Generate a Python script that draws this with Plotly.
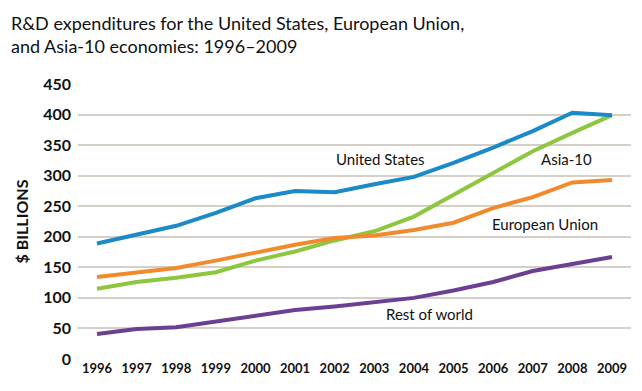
import plotly.graph_objects as go

years = list(range(1996, 2010))
united_states = [189, 204, 218, 239, 263, 275, 273, 286, 298, 321, 346, 373, 403, 399]
european_union = [134, 141, 149, 161, 174, 187, 198, 202, 211, 223, 247, 265, 289, 293]
asia_10 = [115, 126, 133, 142, 161, 176, 194, 209, 233, 269, 305, 340, 370, 399]
rest_of_world = [41, 49, 52, 61, 70, 80, 86, 93, 100, 112, 126, 144, 156, 167]

y_ticks = [0, 50, 100, 150, 200, 250, 300, 350, 400, 450]

series = [
    ("Rest of world", rest_of_world, "#6b3f91"),
    ("Asia-10", asia_10, "#8dc63f"),
    ("European Union", european_union, "#f08a2c"),
    ("United States", united_states, "#1b8ac6"),
]

FONT = "Lato"

fig = go.Figure()
for name, vals, color in series:
    fig.add_trace(go.Scatter(x=years, y=vals, mode="lines", name=name,
                             line=dict(color=color, width=4), showlegend=False))

labels = [
    ("United States", 2003.15, 327),
    ("Asia-10", 2007.85, 327),
    ("European Union", 2007.3, 221),
    ("Rest of world", 2004.4, 74),
]
for text, x, y in labels:
    fig.add_annotation(x=x, y=y, text=text, showarrow=False,
                       font=dict(family=FONT, size=15, color="#111111"))

fig.add_annotation(
    xref="paper", yref="paper", x=-0.125, y=1.27, xanchor="left", yanchor="top",
    align="left", showarrow=False,
    text="R&D expenditures for the United States, European Union,<br>and Asia-10 economies: 1996\u20132009",
    font=dict(family=FONT, size=18, color="#111111"),
)

fig.update_layout(
    width=634, height=383,
    margin=dict(l=70, r=11, t=76, b=32),
    paper_bgcolor="white", plot_bgcolor="white",
    xaxis=dict(
        range=[1995.52, 2009.48], tickmode="array", tickvals=years,
        ticktext=[str(y) for y in years], showgrid=False, zeroline=False,
        showline=False, ticks="",
        tickfont=dict(family=FONT, size=13, color="#111111", weight="bold"),
    ),
    yaxis=dict(
        range=[0, 450], tickmode="array", tickvals=y_ticks,
        showgrid=True, gridcolor="#d6cfc7", gridwidth=1.5, zeroline=False,
        showline=False, ticks="", ticklabelstandoff=6,
        tickfont=dict(family=FONT, size=16, color="#111111", weight="bold"),
        title=dict(text="$ BILLIONS", standoff=10,
                   font=dict(family=FONT, size=16, color="#111111", weight="bold")),
    ),
)

fig.write_html("out.html")
